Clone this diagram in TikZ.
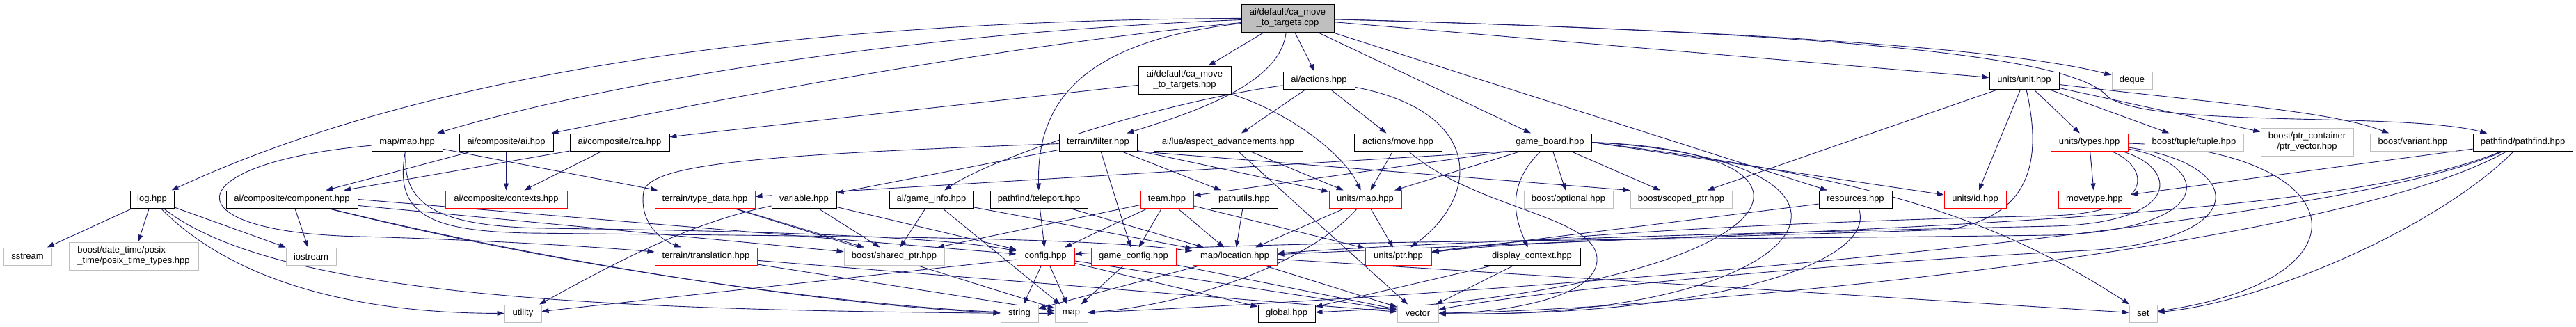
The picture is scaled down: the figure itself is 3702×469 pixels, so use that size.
\documentclass[tikz,border=0pt]{standalone}
\usepackage{fontspec}
\setmainfont{Liberation Sans}
\usepackage{xcolor}
\usepackage{tikz}
\usetikzlibrary{arrows.meta}
\definecolor{midnight}{HTML}{191970}
\definecolor{sysgray}{HTML}{BFBFBF}
\definecolor{cutred}{HTML}{FF0000}
\pgfdeclarelayer{bg}
\pgfdeclarelayer{edges}
\pgfsetlayers{bg,edges,main}
\tikzset{
  file/.style={draw=black,fill=white,line width=1pt,inner sep=0pt,minimum height=25pt,align=center,font=\fontsize{13}{15}\selectfont},
  twoline/.style={minimum height=40pt},
  source/.style={file,twoline,fill=sysgray},
  cutfile/.style={file,draw=cutred},
  sysfile/.style={file,draw=sysgray},
  dep/.style={-{Triangle[length=10pt,width=7pt]},draw=midnight,line width=.9pt}
}
\begin{document}
\begin{tikzpicture}[x=1pt,y=-1pt]
  \begin{pgfonlayer}{bg}
    \fill[white] (0,0) rectangle (3702,469);
  \end{pgfonlayer}
  \useasboundingbox (0,0) rectangle (3702,469);
  % top rows
  \node[source,minimum width=133pt] (root) at (1850.5,26) {ai/default/ca\_move\\\_to\_targets.cpp};
  \node[file,twoline,minimum width=133pt] (cahpp) at (1702.5,115) {ai/default/ca\_move\\\_to\_targets.hpp};
  \node[file,minimum width=103pt] (actions) at (1895.5,115.5) {ai/actions.hpp};
  \node[file,minimum width=100pt] (unit) at (2909,115.5) {units/unit.hpp};
  \node[sysfile,minimum width=58pt] (deque) at (3064,115.5) {deque};
  \node[file,minimum width=102pt] (mapmap) at (585,204.5) {map/map.hpp};
  \node[file,minimum width=135pt] (aiai) at (727.5,204.5) {ai/composite/ai.hpp};
  \node[file,minimum width=143pt] (rca) at (890.5,204.5) {ai/composite/rca.hpp};
  \node[file,minimum width=112pt] (filter) at (1578,204.5) {terrain/filter.hpp};
  \node[file,minimum width=214pt] (aspect) at (1765,204.5) {ai/lua/aspect\_advancements.hpp};
  \node[file,minimum width=126pt] (move) at (2009,204.5) {actions/move.hpp};
  \node[file,minimum width=119pt] (gameboard) at (2227.5,204.5) {game\_board.hpp};
  \node[cutfile,minimum width=111pt] (types) at (3002.5,204.5) {units/types.hpp};
  \node[sysfile,minimum width=142pt] (tuple) at (3153,204.5) {boost/tuple/tuple.hpp};
  \node[sysfile,twoline,minimum width=133pt] (ptrvec) at (3315.5,204) {boost/ptr\_container\\/ptr\_vector.hpp};
  \node[sysfile,minimum width=123pt] (variant) at (3467.5,204.5) {boost/variant.hpp};
  \node[file,minimum width=143pt] (pathfind) at (3625.5,204.5) {pathfind/pathfind.hpp};
  % middle row
  \node[file,minimum width=63pt] (log) at (218.5,286.5) {log.hpp};
  \node[file,minimum width=189pt] (component) at (419.5,286.5) {ai/composite/component.hpp};
  \node[cutfile,minimum width=175pt] (contexts) at (727.5,286.5) {ai/composite/contexts.hpp};
  \node[cutfile,minimum width=144pt] (typedata) at (1013,286.5) {terrain/type\_data.hpp};
  \node[file,minimum width=93pt] (variable) at (1155.5,286.5) {variable.hpp};
  \node[file,minimum width=121pt] (gameinfo) at (1338.5,286.5) {ai/game\_info.hpp};
  \node[file,minimum width=140pt] (teleport) at (1493,286.5) {pathfind/teleport.hpp};
  \node[cutfile,minimum width=76pt] (team) at (1677,286.5) {team.hpp};
  \node[file,minimum width=96pt] (pathutils) at (1788,286.5) {pathutils.hpp};
  \node[cutfile,minimum width=104pt] (unitsmap) at (1962,286.5) {units/map.hpp};
  \node[sysfile,minimum width=128pt] (optional) at (2254,286.5) {boost/optional.hpp};
  \node[sysfile,minimum width=146pt] (scoped) at (2416,286.5) {boost/scoped\_ptr.hpp};
  \node[file,minimum width=105pt] (resources) at (2666.5,286.5) {resources.hpp};
  \node[cutfile,minimum width=89pt] (unitsid) at (2838.5,286.5) {units/id.hpp};
  \node[cutfile,minimum width=104pt] (movetype) at (3010,286.5) {movetype.hpp};
  % lower rows
  \node[sysfile,minimum width=69pt] (sstream) at (39.5,368.5) {sstream};
  \node[sysfile,twoline,minimum width=186pt,align=left] (posix) at (192,368) {boost/date\_time/posix\\\_time/posix\_time\_types.hpp};
  \node[sysfile,minimum width=72pt] (iostream) at (447,368.5) {iostream};
  \node[cutfile,minimum width=147pt] (translation) at (1014.5,368.5) {terrain/translation.hpp};
  \node[sysfile,minimum width=144pt] (shared) at (1285,368.5) {boost/shared\_ptr.hpp};
  \node[cutfile,minimum width=83pt] (config) at (1502.5,368.5) {config.hpp};
  \node[cutfile,minimum width=122pt] (gameconfig) at (1629,368.5) {game\_config.hpp};
  \node[cutfile,minimum width=121pt] (location) at (1774.5,368.5) {map/location.hpp};
  \node[cutfile,minimum width=95pt] (unitsptr) at (2009.5,368.5) {units/ptr.hpp};
  \node[file,minimum width=139pt] (display) at (2201.5,368.5) {display\_context.hpp};
  \node[sysfile,minimum width=53pt] (utility) at (751.5,450.5) {utility};
  \node[sysfile,minimum width=54pt] (string) at (1465,450.5) {string};
  \node[sysfile,minimum width=47pt] (map) at (1539.5,450.5) {map};
  \node[file,minimum width=82pt] (global) at (1849,450.5) {global.hpp};
  \node[sysfile,minimum width=59pt] (vector) at (2037.5,450.5) {vector};
  \node[sysfile,minimum width=40pt] (set) at (3080,450.5) {set};

  \begin{pgfonlayer}{edges}
  % from the source file
  \draw[dep] (root) -- (cahpp);
  \draw[dep] (root) -- (actions);
  \draw[dep] (root) .. controls (1100,30) and (600,110) .. (log);
  \draw[dep] (root) .. controls (1350,45) and (900,110) .. (mapmap);
  \draw[dep] (root) .. controls (1400,70) and (1000,150) .. (aiai);
  \draw[dep] (root) .. controls (1550,60) and (1490,150) .. (teleport);
  \draw[dep] (root) .. controls (1840,120) and (1720,160) .. (filter);
  \draw[dep] (root) -- (gameboard);
  \draw[dep] (root) -- (resources);
  \draw[dep] (root) -- (unit);
  \draw[dep] (root) .. controls (2300,38) and (2850,60) .. (deque);
  \draw[dep] (root) .. controls (2750,50) and (2990,90) .. (3030,140) .. controls (3100,185) and (3450,160) .. (pathfind);
  \draw[dep] (cahpp) -- (rca);
  \draw[dep] (cahpp) .. controls (1850,160) and (1930,220) .. (unitsmap);
  \draw[dep] (actions) -- (aspect);
  \draw[dep] (actions) .. controls (1650,150) and (1420,230) .. (gameinfo);
  \draw[dep] (actions) -- (move);
  \draw[dep] (actions) .. controls (2130,160) and (2130,280) .. (unitsptr);
  \draw[dep] (unit) -- (scoped);
  \draw[dep] (unit) -- (unitsid);
  \draw[dep] (unit) .. controls (2935,230) and (2920,310) .. (2800,330) .. controls (2500,340) and (2200,345) .. (unitsptr);
  \draw[dep] (unit) -- (types);
  \draw[dep] (unit) -- (tuple);
  \draw[dep] (unit) -- (ptrvec);
  \draw[dep] (unit) .. controls (3200,150) and (3350,160) .. (variant);
  \draw[dep] (types) -- (movetype);
  \draw[dep] (types) .. controls (3090,240) and (3100,305) .. (2950,310) .. controls (2600,318) and (2250,335) .. (unitsptr);
  \draw[dep] (types) .. controls (3130,240) and (3140,320) .. (2950,325) .. controls (2500,335) and (2100,345) .. (location);
  \draw[dep] (types) .. controls (3180,235) and (3190,330) .. (2950,338) .. controls (2400,345) and (1800,345) .. (config);
  \draw[dep] (types) .. controls (3230,235) and (3240,345) .. (3000,360) .. controls (2600,380) and (2200,420) .. (vector);
  \draw[dep] (types) .. controls (3380,215) and (3420,400) .. (set);
  \draw[dep] (pathfind) -- (movetype);
  \draw[dep] (pathfind) .. controls (3350,320) and (2600,330) .. (location);
  \draw[dep] (pathfind) .. controls (3350,330) and (2200,420) .. (map);
  \draw[dep] (pathfind) .. controls (3350,360) and (2400,445) .. (vector);
  \draw[dep] (pathfind) .. controls (3500,330) and (3250,435) .. (set);
  \draw[dep] (gameboard.south west) -- (typedata);
  \draw[dep] (gameboard.south west) -- (team);
  \draw[dep] (gameboard) -- (unitsmap);
  \draw[dep] (gameboard) -- (optional);
  \draw[dep] (gameboard) .. controls (2160,270) and (2180,320) .. (display);
  \draw[dep] (gameboard) -- (scoped);
  \draw[dep] (gameboard.east) -- (unitsid);
  \draw[dep] (gameboard.east) .. controls (2650,250) and (2850,300) .. (set);
  \draw[dep] (gameboard.east) .. controls (2700,220) and (2560,420) .. (global);
  \draw[dep] (gameboard.east) .. controls (2760,230) and (2620,460) .. (vector);
  \draw[dep] (resources) .. controls (2700,380) and (2450,455) .. (vector);
  \draw[dep] (resources) -- (unitsptr);
  \draw[dep] (move) -- (unitsmap);
  \draw[dep] (move) .. controls (2120,300) and (2290,310) .. (2295,370) .. controls (2300,430) and (2150,450) .. (vector);
  \draw[dep] (aspect) -- (unitsmap);
  \draw[dep] (aspect) -- (vector);
  \draw[dep] (filter) .. controls (1100,222) and (935,235) .. (925,275) .. controls (918,320) and (950,345) .. (translation);
  \draw[dep] (filter) -- (variable);
  \draw[dep] (filter) -- (gameconfig);
  \draw[dep] (filter) -- (pathutils);
  \draw[dep] (filter) -- (unitsmap);
  \draw[dep] (filter.south east) -- (scoped.north west);
  \draw[dep] (teleport) -- (config);
  \draw[dep] (teleport) -- (location);
  \draw[dep] (team) -- (config);
  \draw[dep] (team) -- (gameconfig);
  \draw[dep] (team) -- (location);
  \draw[dep] (team) -- (shared);
  \draw[dep] (team) -- (unitsptr);
  \draw[dep] (pathutils) -- (location);
  \draw[dep] (gameinfo) -- (shared);
  \draw[dep] (gameinfo) -- (map);
  \draw[dep] (gameinfo) -- (location);
  \draw[dep] (variable) -- (shared);
  \draw[dep] (variable) -- (config);
  \draw[dep] (variable) .. controls (990,320) and (880,380) .. (utility);
  \draw[dep] (typedata) -- (shared);
  \draw[dep] (typedata) -- (map);
  \draw[dep] (translation) -- (map);
  \draw[dep] (translation) -- (vector);
  \draw[dep] (config) -- (utility);
  \draw[dep] (config) -- (string);
  \draw[dep] (config) -- (map);
  \draw[dep] (config) -- (global);
  \draw[dep] (config) -- (vector);
  \draw[dep] (gameconfig) -- (map);
  \draw[dep] (gameconfig) -- (vector);
  \draw[dep] (location) -- (string);
  \draw[dep] (location) -- (vector);
  \draw[dep] (location) -- (set);
  \draw[dep] (unitsmap) -- (location);
  \draw[dep] (unitsmap) -- (unitsptr);
  \draw[dep] (unitsmap) .. controls (1880,380) and (1700,440) .. (map);
  \draw[dep] (display) -- (vector);
  \draw[dep] (display) -- (global);
  % left part
  \draw[dep] (component) -- (iostream);
  \draw[dep] (component.east) -- (config);
  \draw[dep] (component) -- (shared);
  \draw[dep] (component) .. controls (800,380) and (1200,440) .. (string);
  \draw[dep] (component) .. controls (850,395) and (1300,450) .. (map);
  \draw[dep] (mapmap) .. controls (250,235) and (240,335) .. (520,340) .. controls (700,345) and (860,355) .. (translation);
  \draw[dep] (mapmap) -- (typedata);
  \draw[dep] (mapmap) .. controls (565,310) and (620,332) .. (760,335) .. controls (1200,340) and (1550,340) .. (location);
  \draw[dep] (mapmap) .. controls (575,300) and (640,325) .. (780,328) .. controls (1100,332) and (1350,340) .. (config);
  \draw[dep] (log) -- (sstream);
  \draw[dep] (log) -- (posix);
  \draw[dep] (log) -- (iostream);
  \draw[dep] (log) .. controls (400,430) and (900,445) .. (string);
  \draw[dep] (log) .. controls (330,400) and (500,450) .. (utility);
  \draw[dep] (aiai) -- (component);
  \draw[dep] (aiai) -- (contexts);
  \draw[dep] (rca) -- (component);
  \draw[dep] (rca) -- (contexts);
  \end{pgfonlayer}
\end{tikzpicture}
\end{document}
